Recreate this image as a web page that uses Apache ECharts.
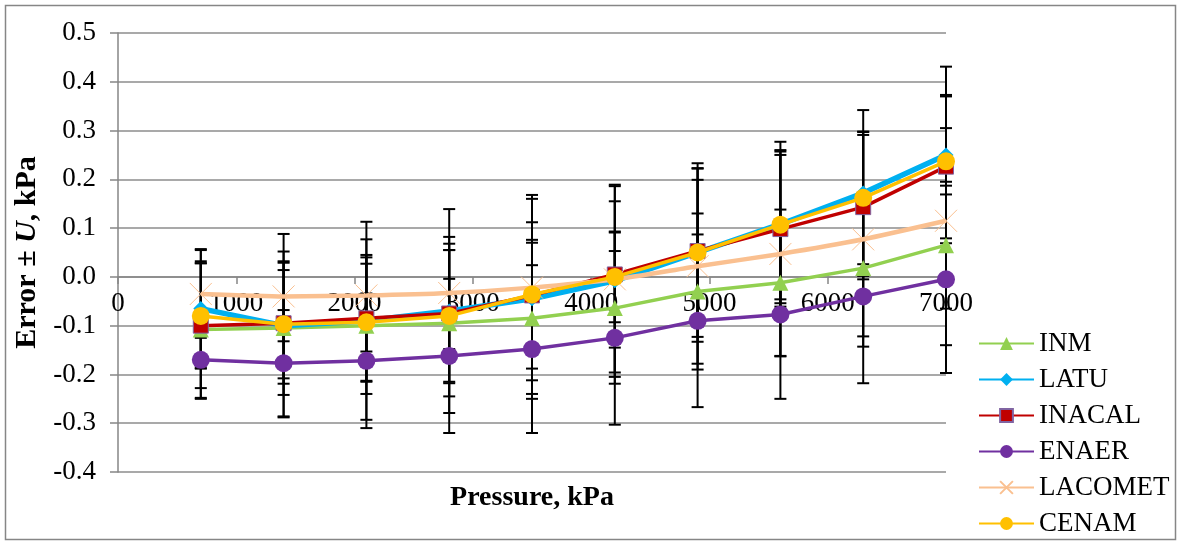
<!DOCTYPE html>
<html>
<head>
<meta charset="utf-8">
<script src="https://cdn.jsdelivr.net/npm/echarts@6/dist/echarts.min.js"></script>
<style>
html,body{margin:0;padding:0;background:#fff;}
#c{width:1181px;height:542px;}
</style>
</head>
<body>
<div id="c"></div>
<script>
// ---- data ----
const pressure = [700, 1400, 2100, 2800, 3500, 4200, 4900, 5600, 6300, 7000];
const seriesNames = ['INM', 'LATU', 'INACAL', 'ENAER', 'LACOMET', 'CENAM'];
const errINM     = [-0.108, -0.105, -0.100, -0.095, -0.085, -0.064, -0.030, -0.012, 0.018, 0.065];
const errLATU    = [-0.065, -0.100, -0.090, -0.070, -0.045, -0.008, 0.050, 0.108, 0.172, 0.250];
const errINACAL  = [-0.100, -0.095, -0.085, -0.075, -0.038, 0.005, 0.053, 0.098, 0.143, 0.226];
const errENAER   = [-0.170, -0.177, -0.172, -0.162, -0.148, -0.125, -0.090, -0.077, -0.040, -0.005];
const errLACOMET = [-0.035, -0.040, -0.038, -0.033, -0.022, -0.005, 0.022, 0.047, 0.077, 0.115];
const errCENAM   = [-0.080, -0.097, -0.093, -0.080, -0.036, 0.000, 0.050, 0.107, 0.162, 0.237];
// expanded uncertainties U
const uINM     = [0.140, 0.137, 0.140, 0.150, 0.155, 0.155, 0.160, 0.150, 0.140, 0.130];
const uLATU    = [0.122, 0.188, 0.203, 0.209, 0.205, 0.197, 0.183, 0.169, 0.170, 0.181];
const uINACAL  = [0.128, 0.124, 0.130, 0.143, 0.150, 0.150, 0.146, 0.152, 0.148, 0.147];
const uENAER   = [0.080, 0.109, 0.138, 0.158, 0.172, 0.178, 0.177, 0.173, 0.178, 0.192];
const uLACOMET = [0.090, 0.092, 0.115, 0.115, 0.190, 0.191, 0.200, 0.210, 0.220, 0.255];
const uCENAM   = [0.108, 0.111, 0.120, 0.135, 0.112, 0.093, 0.173, 0.153, 0.136, 0.068];

const values = [errINM, errLATU, errINACAL, errENAER, errLACOMET, errCENAM];
const uncs = [uINM, uLATU, uINACAL, uENAER, uLACOMET, uCENAM];

const FONT = '"Liberation Serif", "Times New Roman", serif';
const colors = ['#92D050', '#00B0F0', '#C00000', '#7030A0', '#FAC090', '#FFC000'];
const symbols = ['triangle', 'diamond', 'rect', 'circle', 'path://M0,0L10,10M10,0L0,10', 'circle'];
const symSizes = [16, 15, 15, 18, 22, 18];
const lineWidths = [3.5, 5.5, 3.5, 3.5, 4.5, 3.5];

const Y_MIN = -0.4, Y_MAX = 0.5;
const GRID_TOP = 33, GRID_BOTTOM = 70, H = 542;
const plotH = H - GRID_TOP - GRID_BOTTOM;
// shift the x axis up so it sits on y = 0
const xAxisOffset = -plotH * (0 - Y_MIN) / (Y_MAX - Y_MIN);

const chart = echarts.init(document.getElementById('c'), null, {renderer: 'canvas'});

const errData = [];
values.forEach((arr, s) => {
  arr.forEach((v, i) => {
    errData.push([pressure[i], v - uncs[s][i], v + uncs[s][i]]);
  });
});

const lineSeries = seriesNames.map((name, s) => {
  const isCross = s === 4;
  return {
    name: name,
    type: 'line',
    z: 3 + s,
    data: pressure.map((p, i) => [p, values[s][i]]),
    symbol: symbols[s],
    symbolSize: symSizes[s],
    smooth: isCross ? 0.2 : false,
    lineStyle: {color: colors[s], width: lineWidths[s]},
    itemStyle: isCross
      ? {color: 'rgba(0,0,0,0)', borderColor: colors[s], borderWidth: 1}
      : (s === 2 ? {color: colors[s], borderColor: '#8064A2', borderWidth: 1}
                 : {color: colors[s], borderWidth: 0}),
    emphasis: {disabled: true},
    animation: false
  };
});

const option = {
  animation: false,
  backgroundColor: '#fff',
  grid: {left: 118, right: 235, top: GRID_TOP, bottom: GRID_BOTTOM, containLabel: false},
  xAxis: {
    type: 'value',
    min: 0, max: 7000, interval: 1000,
    offset: xAxisOffset,
    axisLine: {onZero: false, lineStyle: {color: '#868686', width: 1.5}},
    axisTick: {show: true, inside: false, length: 7, lineStyle: {color: '#868686', width: 1.5}},
    axisLabel: {color: '#000', fontFamily: FONT, fontSize: 27, margin: 14,
      formatter: v => String(v)},
    splitLine: {show: false}
  },
  yAxis: {
    type: 'value',
    min: Y_MIN, max: Y_MAX, interval: 0.1,
    axisLine: {show: true, lineStyle: {color: '#868686', width: 1.5}},
    axisTick: {show: true, length: 8, lineStyle: {color: '#868686', width: 1.5}},
    axisLabel: {color: '#000', fontFamily: FONT, fontSize: 27, margin: 22,
      formatter: v => v.toFixed(1)},
    splitLine: {show: true, lineStyle: {color: '#8c8c8c', width: 1.5}},
    name: '{b|Error ± }{i|U}{b|, kPa}',
    nameLocation: 'middle',
    nameGap: 63,
    nameRotate: 90,
    nameTextStyle: {
      rich: {
        b: {fontFamily: FONT, fontSize: 30, fontWeight: 'bold', color: '#000'},
        i: {fontFamily: FONT, fontSize: 30, fontWeight: 'bold', fontStyle: 'italic', color: '#000'}
      }
    }
  },
  legend: {
    data: seriesNames,
    orient: 'vertical',
    left: 978,
    top: 330,
    padding: 0,
    itemWidth: 55,
    itemHeight: 16,
    itemGap: 9,
    textStyle: {fontFamily: FONT, fontSize: 27, color: '#000'},
    selectedMode: false
  },
  graphic: [
    {type: 'rect', z: 0, shape: {x: 5.5, y: 5.5, width: 1170, height: 534},
     style: {fill: 'none', stroke: '#868686', lineWidth: 1.5}},
    {type: 'text', x: 532, y: 498, z: 10,
     style: {text: 'Pressure, kPa', font: 'bold 28px ' + FONT, fill: '#000',
             textAlign: 'center', textVerticalAlign: 'middle'}}
  ],
  series: [
    {
      type: 'custom',
      name: 'errbars',
      z: 2,
      silent: true,
      encode: {x: 0, y: [1, 2]},
      data: errData,
      renderItem: function (params, api) {
        const x = api.value(0);
        const top = api.coord([x, api.value(2)]);
        const bot = api.coord([x, api.value(1)]);
        const w = 6;
        const st = {stroke: '#000', lineWidth: 2};
        return {
          type: 'group',
          children: [
            {type: 'line', shape: {x1: top[0], y1: top[1], x2: bot[0], y2: bot[1]}, style: st},
            {type: 'line', shape: {x1: top[0] - w, y1: top[1], x2: top[0] + w, y2: top[1]}, style: st},
            {type: 'line', shape: {x1: bot[0] - w, y1: bot[1], x2: bot[0] + w, y2: bot[1]}, style: st}
          ]
        };
      }
    }
  ].concat(lineSeries)
};

chart.setOption(option);
</script>
</body>
</html>
